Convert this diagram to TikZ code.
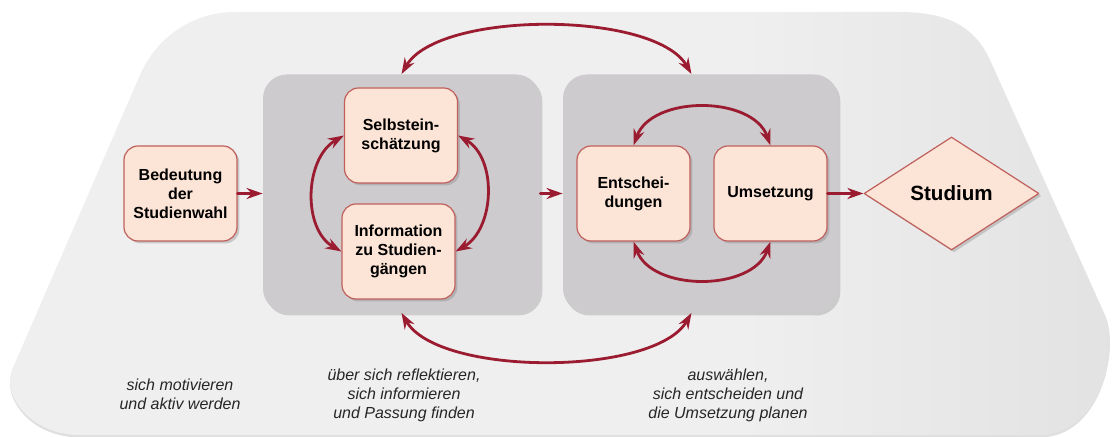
\documentclass[tikz,border=0pt]{standalone}
\usepackage{fontspec}
\setmainfont{Liberation Sans}
\usetikzlibrary{arrows.meta,shapes.geometric,shadows}
\definecolor{bgA}{HTML}{EFEFEF}
\definecolor{bgB}{HTML}{E2E2E2}
\definecolor{grpfill}{HTML}{CDCBCD}
\definecolor{boxfill}{HTML}{FCE4D6}
\definecolor{boxline}{HTML}{C0605C}
\definecolor{arrowred}{HTML}{9B1C31}
\definecolor{notetext}{HTML}{262626}
\pgfdeclarehorizontalshading{bgshade}{100bp}{color(0bp)=(bgA); color(25bp)=(bgA); color(58bp)=(bgA); color(75bp)=(bgB); color(100bp)=(bgB)}

\begin{document}
\begin{tikzpicture}[line cap=round,line join=round,>={Stealth[length=8pt,width=5.5pt]},x=0.5pt,y=0.5pt,
    box/.style={draw=boxline,line width=0.6pt,fill=boxfill,rounded corners=7pt,minimum width=56.5pt,minimum height=47.5pt,inner sep=1pt,align=center,font=\fontsize{8}{9.5}\selectfont\bfseries,drop shadow={shadow xshift=1.2pt,shadow yshift=-1.2pt,opacity=0.35}},
    phase/.style={fill=grpfill,rounded corners=12pt,minimum width=138.5pt,minimum height=119pt,drop shadow={shadow xshift=1.2pt,shadow yshift=-1.5pt,opacity=0.3}},
    link/.style={draw=arrowred,line width=1.4pt},
    note/.style={align=center,text=notetext,font=\fontsize{8}{9.5}\selectfont\itshape}]
            \useasboundingbox (0,0) rectangle (1118,-437);
            % background
            \shade[shading=bgshade,drop shadow={shadow xshift=0pt,shadow yshift=-1.2pt,opacity=0.25}] (235,-12) -- (900,-12) .. controls (945,-12) and (974,-25) .. (990,-60) -- (1105,-315) .. controls (1120,-348) and (1100,-435) .. (1040,-435) -- (80,-435) .. controls (30,-435) and (2,-395) .. (12,-370) -- (140,-75) .. controls (155,-40) and (190,-12) .. (235,-12) -- cycle;
            % phases
            \node[phase] (grp1) at (401.5,-193.5) {};
            \node[phase,minimum width=137.5pt] (grp2) at (700.5,-193.5) {};
            % steps
            \node[box] (bed) at (180.5,-193.5) {Bedeutung\\der\\Studienwahl};
            \node[box] (selb) at (401,-135.5) {Selbstein-\\schätzung};
            \node[box] (info) at (398.5,-251.5) {Information\\zu Studien-\\gängen};
            \node[box] (ent) at (633.5,-193.5) {Entschei-\\dungen};
            \node[box] (ums) at (770.5,-193.5) {Umsetzung};
            \node[diamond,draw=boxline,line width=0.6pt,fill=boxfill,minimum width=87.5pt,minimum height=56.5pt,inner sep=0pt,font=\fontsize{10.3}{12}\selectfont\bfseries,drop shadow={shadow xshift=1.2pt,shadow yshift=-1.2pt,opacity=0.35}] (stud) at (951.5,-193.5) {Studium};
            % connectors
            \draw[link,->] (bed.east) -- (grp1.west);
            \draw[link,->] (grp1.east) -- (grp2.west);
            \draw[link,->] (ums.east) -- (stud.west);
            \draw[link,<->] (grp1.north) to[out=60,in=120,looseness=0.65] ([xshift=-4.5pt]grp2.north);
            \draw[link,<->] (grp1.south) to[out=-60,in=-120,looseness=0.65] ([xshift=-4.5pt]grp2.south);
            \draw[link,<->] (selb.west) to[out=210,in=150] (info.west);
            \draw[link,<->] (selb.east) to[out=-30,in=30] (info.east);
            \draw[link,<->] (ent.north) to[out=70,in=110] (ums.north);
            \draw[link,<->] (ent.south) to[out=-70,in=-110] (ums.south);
            % notes
            \node[note] (motiv) at (180,-394.5) {sich motivieren\\und aktiv werden};
            \node[note] (refl) at (404,-395) {über sich reflektieren,\\sich informieren\\und Passung finden};
            \node[note] (ausw) at (728,-395) {auswählen,\\sich entscheiden und\\die Umsetzung planen};
\end{tikzpicture}
\end{document}
